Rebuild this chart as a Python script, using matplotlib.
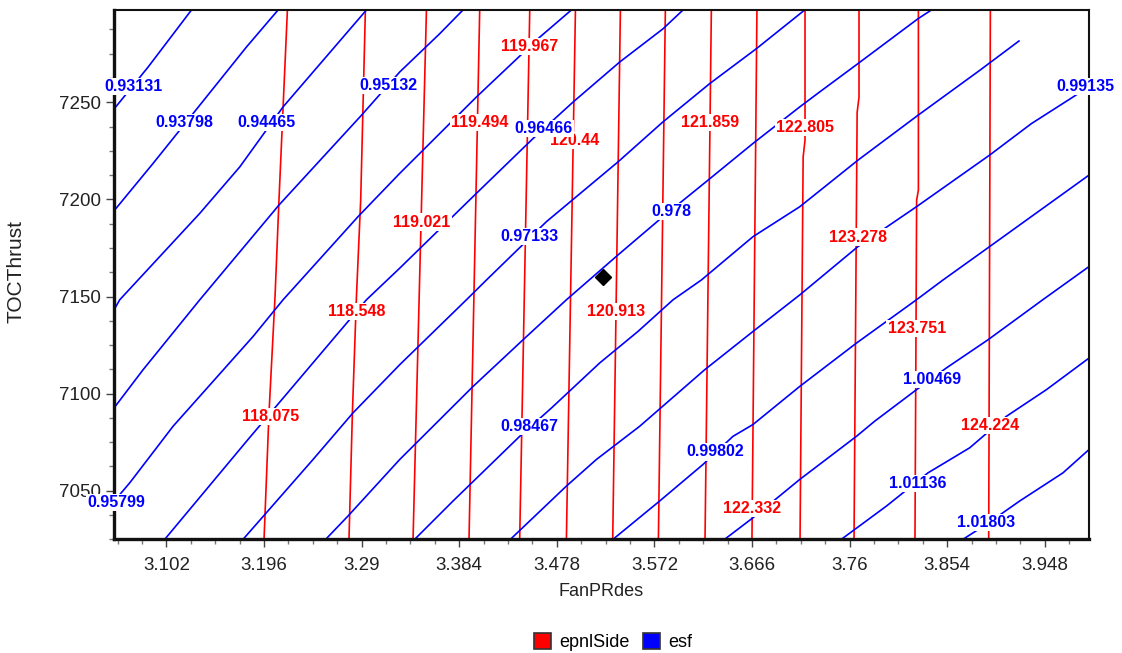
import matplotlib
matplotlib.use("Agg")
import matplotlib.pyplot as plt
from matplotlib.patches import Patch
from matplotlib.ticker import FixedLocator, FixedFormatter, MultipleLocator

plt.rcParams['font.family'] = ['Liberation Sans', 'DejaVu Sans']

# ---------------- data ----------------
x_tick_values = [3.102, 3.196, 3.29, 3.384, 3.478, 3.572, 3.666, 3.76, 3.854, 3.948]
x_tick_labels = ["3.102", "3.196", "3.29", "3.384", "3.478", "3.572", "3.666", "3.76", "3.854", "3.948"]
y_tick_values = [7050, 7100, 7150, 7200, 7250]
y_tick_labels = ["7050", "7100", "7150", "7200", "7250"]
x_range = (3.0515, 3.9905)
y_range = (7025.0, 7297.5)

# epnlSide contour lines (red): x positions along each line at the given y values
epnl_x = [
    [3.2185, 3.2104, 3.2066, 3.2008, 3.1960],
    [3.2936, 3.2891, 3.2850, 3.2811, 3.2778],
    [3.3524, 3.3395],
    [3.4037, 3.3934],
    [3.4519, 3.4422],
    [3.4959, 3.4872],
    [3.5392, 3.5318],
    [3.5825, 3.5758],
    [3.6268, 3.6207],
    [3.6707, 3.6659],
    [3.7170, 3.7170, 3.7152, 3.7122],
    [3.7690, 3.7690, 3.7672, 3.7642],
    [3.8262, 3.8262, 3.8245, 3.8229],
    [3.8955, 3.8939],
]
epnl_y = [
    [7297.5, 7199.9, 7150.1, 7090.2, 7025.0],
    [7297.5, 7199.9, 7150.1, 7090.2, 7025.0],
    [7297.5, 7025.0],
    [7297.5, 7025.0],
    [7297.5, 7025.0],
    [7297.5, 7025.0],
    [7297.5, 7025.0],
    [7297.5, 7025.0],
    [7297.5, 7025.0],
    [7297.5, 7025.0],
    [7297.5, 7230.5, 7221.8, 7025.0],
    [7297.5, 7252.6, 7244.8, 7025.0],
    [7297.5, 7204.8, 7199.6, 7025.0],
    [7297.5, 7025.0],
]
epnl_label_text = ["118.075", "118.548", "119.021", "119.494", "119.967", "120.44", "120.913",
                   "121.859", "122.332", "122.805", "123.278", "123.751", "124.224"]
epnl_label_x = [3.2024, 3.2853, 3.3479, 3.4037, 3.4519, 3.4952, 3.5352,
                3.6252, 3.6657, 3.7167, 3.7676, 3.8245, 3.8948]
epnl_label_y = [7088.3, 7142.1, 7188.3, 7239.7, 7278.7, 7230.5, 7142.1,
                7239.7, 7040.9, 7237.1, 7180.6, 7133.4, 7083.5]

# esf contour lines (blue)
esf_x = [
    [3.0515, 3.0843, 3.1261],
    [3.0515, 3.0891, 3.1790, 3.2095],
    [3.0515, 3.0570, 3.1341, 3.1726, 3.2143, 3.2946],
    [3.0515, 3.0795, 3.1341, 3.2104, 3.2898, 3.3267, 3.3652, 3.3876],
    [3.0515, 3.0667, 3.1084, 3.1854, 3.2143, 3.2865, 3.3267, 3.4005, 3.4615, 3.4920],
    [3.1004, 3.1806, 3.2946, 3.3267, 3.4005, 3.4550, 3.4936, 3.5385, 3.5802, 3.5995],
    [3.1758, 3.1983, 3.2432, 3.2817, 3.3267, 3.3909, 3.4102, 3.4679, 3.5369, 3.5802,
     3.6252, 3.6702, 3.7167],
    [3.2554, 3.2769, 3.3267, 3.3973, 3.4454, 3.4872, 3.5369, 3.5802, 3.6236, 3.6669,
     3.7119, 3.7311, 3.7680, 3.8258, 3.8387],
    [3.3411, 3.3780, 3.4422, 3.4728, 3.5193, 3.5561, 3.5899, 3.6172, 3.6669, 3.7119,
     3.7680, 3.8258, 3.8852, 3.9237],
    [3.4333, 3.4872, 3.5161, 3.5578, 3.6204, 3.6669, 3.7119, 3.7680, 3.8243, 3.8948,
     3.9350, 3.9751, 3.9905],
    [3.5321, 3.5770, 3.6187, 3.6476, 3.6669, 3.7119, 3.7665, 3.8243, 3.8499, 3.8948, 3.9905],
    [3.6396, 3.6669, 3.7119, 3.7665, 3.7841, 3.8243, 3.8531, 3.8932, 3.9459, 3.9905],
    [3.7520, 3.7954, 3.8354, 3.8756, 3.9109, 3.9494, 3.9905],
    [3.8691, 3.8917, 3.9237, 3.9654, 3.9905],
]
esf_y = [
    [7246.5, 7268.1, 7297.5],
    [7194.1, 7218.5, 7278.4, 7297.5],
    [7143.1, 7148.3, 7192.8, 7216.7, 7247.6, 7297.5],
    [7092.6, 7112.3, 7148.3, 7197.1, 7243.3, 7265.6, 7285.3, 7297.5],
    [7044.5, 7054.1, 7083.2, 7129.4, 7148.3, 7191.1, 7213.4, 7252.7, 7283.5, 7297.5],
    [7025.0, 7076.4, 7148.3, 7164.6, 7203.1, 7231.3, 7250.1, 7270.7, 7287.8, 7297.5],
    [7025.0, 7038.7, 7066.1, 7090.1, 7114.9, 7148.3, 7158.5, 7188.5, 7219.3, 7239.9,
     7259.6, 7277.6, 7297.5],
    [7025.0, 7037.0, 7066.1, 7103.7, 7127.7, 7148.3, 7171.4, 7191.1, 7209.9, 7228.8,
     7247.6, 7255.3, 7269.9, 7293.0, 7297.5],
    [7025.0, 7044.7, 7078.0, 7092.6, 7115.8, 7132.0, 7148.3, 7158.5, 7180.8, 7196.2,
     7220.2, 7243.3, 7266.4, 7281.8],
    [7025.0, 7052.4, 7066.1, 7083.2, 7112.3, 7132.0, 7150.8, 7175.7, 7196.2, 7222.8,
     7239.0, 7252.7, 7258.2],
    [7025.0, 7044.7, 7063.5, 7078.0, 7084.1, 7103.7, 7126.0, 7148.3, 7158.5, 7175.7, 7212.5],
    [7025.0, 7036.1, 7055.8, 7078.0, 7085.8, 7102.0, 7113.2, 7127.7, 7148.3, 7165.4],
    [7025.0, 7042.1, 7059.2, 7072.1, 7088.3, 7102.0, 7118.3],
    [7025.0, 7032.7, 7044.7, 7059.2, 7071.2],
]
esf_label_text = ["0.93131", "0.93798", "0.94465", "0.95132", "0.95799", "0.96466", "0.97133",
                  "0.978", "0.98467", "0.99135", "0.99802", "1.00469", "1.01136", "1.01803"]
esf_label_x = [3.0698, 3.1189, 3.1983, 3.3161, 3.0539, 3.4653, 3.4512,
               3.5883, 3.4512, 3.9873, 3.6310, 3.8397, 3.8252, 3.8910]
esf_label_y = [7258.2, 7239.6, 7239.6, 7258.8, 7044.1, 7236.5, 7180.8,
               7193.6, 7083.2, 7258.2, 7070.0, 7107.2, 7053.8, 7033.6]

design_point_x = [3.5224]
design_point_y = [7160.2]

series_names = ["epnlSide", "esf"]
series_colors = ["#ff0000", "#0000ff"]

# ---------------- plot ----------------
W, H = 1122, 653
fig = plt.figure(figsize=(W / 100, H / 100), dpi=100)
ax = fig.add_axes([114 / W, 1 - 539.3 / H, 975 / W, 529.3 / H])

for xs, ys in zip(epnl_x, epnl_y):
    ax.plot(xs, ys, color=series_colors[0], lw=1.2, zorder=2, solid_capstyle='butt')
for xs, ys in zip(esf_x, esf_y):
    ax.plot(xs, ys, color=series_colors[1], lw=1.2, zorder=2.1, solid_capstyle='butt')

ax.plot(design_point_x, design_point_y, marker='D', ms=8, color='black', ls='none', zorder=3)

box = dict(facecolor='white', edgecolor='none', pad=0.8)
for s, x, y in zip(epnl_label_text, epnl_label_x, epnl_label_y):
    ax.text(x, y, s, color=series_colors[0], fontsize=11.5, fontweight='bold',
            ha='center', va='center', bbox=box, zorder=4, clip_on=False)
for s, x, y in zip(esf_label_text, esf_label_x, esf_label_y):
    ax.text(x, y, s, color=series_colors[1], fontsize=11.5, fontweight='bold',
            ha='center', va='center', bbox=box, zorder=5, clip_on=False)

ax.set_xlim(*x_range)
ax.set_ylim(*y_range)

ax.xaxis.set_major_locator(FixedLocator(x_tick_values))
ax.xaxis.set_major_formatter(FixedFormatter(x_tick_labels))
ax.xaxis.set_minor_locator(FixedLocator([x_tick_values[0] + 0.0235 * k for k in range(-2, 38)]))
ax.yaxis.set_major_locator(FixedLocator(y_tick_values))
ax.yaxis.set_major_formatter(FixedFormatter(y_tick_labels))
ax.yaxis.set_minor_locator(MultipleLocator(12.5))

ax.tick_params(axis='both', which='major', direction='out', length=5.5, width=1,
               color='#444444', labelsize=13.5, labelcolor='#222222')
ax.tick_params(axis='both', which='minor', direction='out', length=3.8, width=1, color='#777777')
ax.tick_params(axis='x', which='major', pad=7)
ax.tick_params(axis='y', which='major', pad=4)

for side in ['left', 'bottom']:
    ax.spines[side].set_linewidth(2.4)
for side in ['top', 'right']:
    ax.spines[side].set_linewidth(1.5)
for sp in ax.spines.values():
    sp.set_color('#111111')
    sp.set_zorder(3.5)

ax.set_xlabel("FanPRdes", fontsize=13, color='#222222')
ax.set_ylabel("TOCThrust", fontsize=15, color='#222222')
ax.xaxis.set_label_coords(0.4992, -0.083)
ax.yaxis.set_label_coords(-0.0905, 0.506)

handles = [Patch(facecolor=c, edgecolor='#333333', linewidth=1.2, label=n)
           for n, c in zip(series_names, series_colors)]
fig.legend(handles=handles, loc='center', bbox_to_anchor=(613 / W, 1 - 642 / H), ncol=2,
           frameon=False, fontsize=13, handlelength=0.95, handleheight=1.0,
           handletextpad=0.45, columnspacing=0.7, borderpad=0.1)

fig.savefig('out.png', dpi=100)
